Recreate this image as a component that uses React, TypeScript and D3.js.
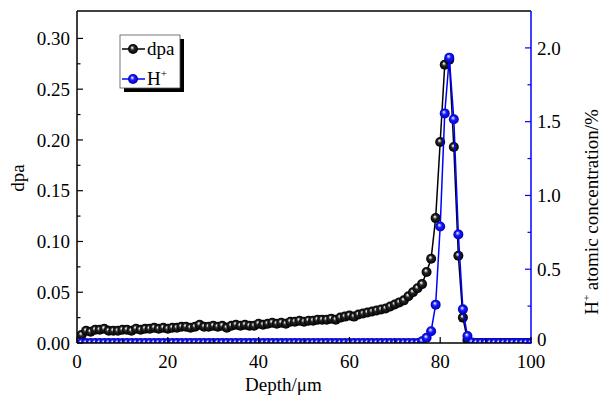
import React from "react";
import * as d3 from "d3";

const width = 603;
const height = 396;
const margin = { left: 77, right: 72, top: 11, bottom: 53 };

// depth in um
const depth = [
  1, 2, 3, 4, 5, 6, 7, 8, 9, 10, 11, 12, 13, 14, 15, 16, 17, 18, 19, 20,
  21, 22, 23, 24, 25, 26, 27, 28, 29, 30, 31, 32, 33, 34, 35, 36, 37, 38, 39, 40,
  41, 42, 43, 44, 45, 46, 47, 48, 49, 50, 51, 52, 53, 54, 55, 56, 57, 58, 59, 60,
  61, 62, 63, 64, 65, 66, 67, 68, 69, 70, 71, 72, 73, 74, 75, 76, 77, 78, 79, 80,
  81, 82, 83, 84, 85, 86, 87, 88, 89, 90, 91, 92, 93, 94, 95, 96, 97, 98, 99, 100
];

const dpa = [
  0.008, 0.012, 0.011, 0.013, 0.013, 0.014, 0.012, 0.012, 0.012, 0.013,
  0.013, 0.012, 0.014, 0.013, 0.014, 0.014, 0.015, 0.014, 0.015, 0.014,
  0.015, 0.015, 0.016, 0.016, 0.015, 0.016, 0.018, 0.016, 0.016, 0.017,
  0.016, 0.017, 0.015, 0.017, 0.018, 0.017, 0.018, 0.017, 0.017, 0.019,
  0.018, 0.019, 0.020, 0.019, 0.020, 0.019, 0.021, 0.021, 0.022, 0.021,
  0.022, 0.022, 0.023, 0.023, 0.023, 0.024, 0.023, 0.025, 0.026, 0.027,
  0.026, 0.028, 0.029, 0.030, 0.031, 0.032, 0.033, 0.034, 0.036, 0.038,
  0.040, 0.042, 0.046, 0.050, 0.054, 0.058, 0.070, 0.083, 0.123, 0.198,
  0.274, 0.279, 0.193, 0.086, 0.025, 0.003, 0, 0, 0, 0,
  0, 0, 0, 0, 0, 0, 0, 0, 0, 0
];

// H+ atomic concentration, %
const hConc = [
  0, 0, 0, 0, 0, 0, 0, 0, 0, 0,
  0, 0, 0, 0, 0, 0, 0, 0, 0, 0,
  0, 0, 0, 0, 0, 0, 0, 0, 0, 0,
  0, 0, 0, 0, 0, 0, 0, 0, 0, 0,
  0, 0, 0, 0, 0, 0, 0, 0, 0, 0,
  0, 0, 0, 0, 0, 0, 0, 0, 0, 0,
  0, 0, 0, 0, 0, 0, 0, 0, 0, 0,
  0, 0, 0, 0, 0, 0.012, 0.035, 0.08, 0.26, 0.79,
  1.556, 1.934, 1.516, 0.736, 0.228, 0.047, 0.004, 0, 0, 0,
  0, 0, 0, 0, 0, 0, 0, 0, 0, 0
];

const xTicks = [0, 20, 40, 60, 80, 100];
const xMinor = [10, 30, 50, 70, 90];
const leftTicks = [0, 0.05, 0.1, 0.15, 0.2, 0.25, 0.3];
const leftMinor = [0.025, 0.075, 0.125, 0.175, 0.225, 0.275];
const rightTicks = [0, 0.5, 1.0, 1.5, 2.0];
const rightMinor = [0.25, 0.75, 1.25, 1.75];

const font = "Liberation Serif, Times New Roman, serif";
const BLUE = "#0000ff";

export default function App() {
  const x = d3.scaleLinear().domain([0, 100]).range([margin.left, width - margin.right]);
  const yL = d3.scaleLinear().domain([0, 0.327]).range([height - margin.bottom, margin.top]);
  const yR = d3.scaleLinear().domain([0, 2.25]).range([height - margin.bottom, margin.top]);

  const x0 = margin.left;
  const x1 = width - margin.right;
  const y0 = height - margin.bottom;
  const y1 = margin.top;

  const dpaPts = depth.map((d, i) => [x(d), yL(dpa[i])] as [number, number]);
  const hPts = depth.map((d, i) => [x(d), yR(hConc[i])] as [number, number]);
  const line = d3.line();

  const r = 5;

  return (
    <svg
      width={width}
      height={height}
      style={{ position: "absolute", left: 0, top: 0, background: "#fff", fontFamily: font }}
    >
      <defs>
        <radialGradient id="ballK" cx="0.5" cy="0.5" r="0.5" fx="0.4" fy="0.34">
          <stop offset="0" stopColor="#ffffff" />
          <stop offset="0.14" stopColor="#c8c8c8" />
          <stop offset="0.42" stopColor="#262626" />
          <stop offset="1" stopColor="#000000" />
        </radialGradient>
        <radialGradient id="ballB" cx="0.5" cy="0.5" r="0.5" fx="0.4" fy="0.34">
          <stop offset="0" stopColor="#ffffff" />
          <stop offset="0.14" stopColor="#b4bcff" />
          <stop offset="0.45" stopColor="#1a1aff" />
          <stop offset="1" stopColor="#0000b8" />
        </radialGradient>
        <clipPath id="plotClip">
          <rect x={x0} y={y1} width={x1 - x0} height={y0 - y1} />
        </clipPath>
      </defs>

      <g clipPath="url(#plotClip)">
        <path d={line(dpaPts) || ""} fill="none" stroke="#000" strokeWidth={1.5} />
        {dpaPts.map((p, i) => (
          <circle key={"k" + i} cx={p[0]} cy={p[1]} r={r} fill="url(#ballK)" />
        ))}
        <path d={line(hPts) || ""} fill="none" stroke={BLUE} strokeWidth={1.5} />
        {hPts.map((p, i) => (
          <circle key={"b" + i} cx={p[0]} cy={p[1]} r={r} fill="url(#ballB)" />
        ))}
      </g>

      {/* frame */}
      <line x1={x0} y1={y1} x2={x1} y2={y1} stroke="#000" strokeWidth={1.5} />
      <line x1={x0} y1={y0} x2={x1} y2={y0} stroke="#000" strokeWidth={1.5} />
      <line x1={x0} y1={y1} x2={x0} y2={y0} stroke="#000" strokeWidth={1.5} />
      <line x1={x1} y1={y1} x2={x1} y2={y0 + 0.75} stroke={BLUE} strokeWidth={1.5} />

      {/* bottom axis */}
      {xTicks.map(t => (
        <g key={"xt" + t}>
          <line x1={x(t)} x2={x(t)} y1={y0} y2={y0 - 6} stroke="#000" strokeWidth={1.2} />
          <text x={x(t)} y={y0 + 25} textAnchor="middle" fontSize={19}>
            {t}
          </text>
        </g>
      ))}
      {xMinor.map(t => (
        <line key={"xm" + t} x1={x(t)} x2={x(t)} y1={y0} y2={y0 - 3.5} stroke="#000" strokeWidth={1.2} />
      ))}
      <text x={245} y={391} fontSize={19}>
        Depth/μm
      </text>

      {/* left axis */}
      {leftTicks.map(t => (
        <g key={"lt" + t}>
          <line x1={x0} x2={x0 + 6} y1={yL(t)} y2={yL(t)} stroke="#000" strokeWidth={1.2} />
          <text x={70} y={yL(t)} dy="0.35em" textAnchor="end" fontSize={19}>
            {t.toFixed(2)}
          </text>
        </g>
      ))}
      {leftMinor.map(t => (
        <line key={"lm" + t} x1={x0} x2={x0 + 3.5} y1={yL(t)} y2={yL(t)} stroke="#000" strokeWidth={1.2} />
      ))}
      <text transform={`translate(24, ${178}) rotate(-90)`} textAnchor="middle" fontSize={19}>
        dpa
      </text>

      {/* right axis */}
      {rightTicks.map(t => (
        <g key={"rt" + t}>
          <line x1={x1} x2={x1 - 6} y1={yR(t)} y2={yR(t)} stroke={BLUE} strokeWidth={1.2} />
          <text x={537} y={t === 0 ? yR(t) - 4 : yR(t)} dy="0.35em" fontSize={19}>
            {t === 0 ? "0" : t.toFixed(1)}
          </text>
        </g>
      ))}
      {rightMinor.map(t => (
        <line key={"rm" + t} x1={x1} x2={x1 - 3.5} y1={yR(t)} y2={yR(t)} stroke={BLUE} strokeWidth={1.2} />
      ))}
      <text transform={`translate(598, ${212}) rotate(-90)`} textAnchor="middle" fontSize={19}>
        H<tspan fontSize={11} dy={-8}>+</tspan>
        <tspan dy={8}> atomic concentration/%</tspan>
      </text>

      {/* legend */}
      <rect x={124} y={39} width={60} height={53} fill="#000" />
      <rect x={120} y={35} width={60} height={53} fill="#fff" stroke="#555" strokeWidth={0.8} />
      <line x1={122} x2={145} y1={49} y2={49} stroke="#000" strokeWidth={1.5} />
      <circle cx={133} cy={49} r={r} fill="url(#ballK)" />
      <text x={147} y={55} fontSize={19}>
        dpa
      </text>
      <line x1={122} x2={145} y1={79} y2={79} stroke={BLUE} strokeWidth={1.5} />
      <circle cx={133} cy={79} r={r} fill="url(#ballB)" />
      <text x={147} y={85} fontSize={19}>
        H<tspan fontSize={11} dy={-8}>+</tspan>
      </text>
    </svg>
  );
}
